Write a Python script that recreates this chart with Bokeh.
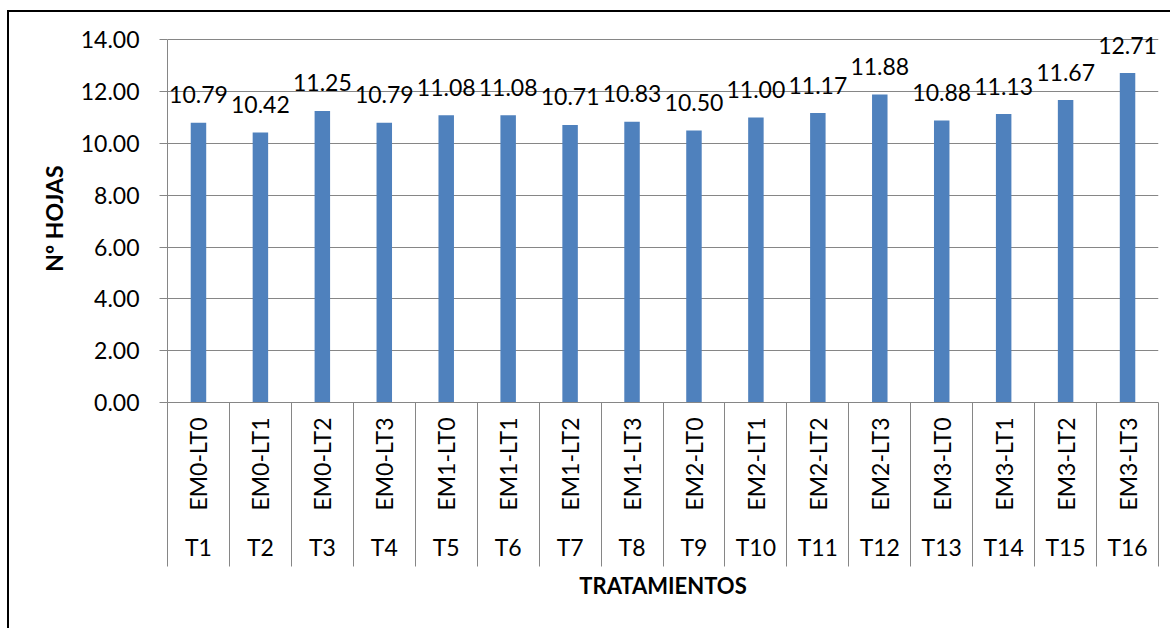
from math import pi
from bokeh.plotting import figure
from bokeh.models import (Range1d, LinearAxis, FixedTicker, PrintfTickFormatter,
                          Grid, ColumnDataSource)
from bokeh.core.properties import value
from bokeh.embed import file_html
from bokeh.resources import INLINE

# Treatment codes (inner level) and treatment names (outer level)
codes = ["EM0-LT0", "EM0-LT1", "EM0-LT2", "EM0-LT3",
         "EM1-LT0", "EM1-LT1", "EM1-LT2", "EM1-LT3",
         "EM2-LT0", "EM2-LT1", "EM2-LT2", "EM2-LT3",
         "EM3-LT0", "EM3-LT1", "EM3-LT2", "EM3-LT3"]
treatments = ["T1", "T2", "T3", "T4", "T5", "T6", "T7", "T8",
              "T9", "T10", "T11", "T12", "T13", "T14", "T15", "T16"]
# Mean number of leaves per treatment
hojas = [10.79, 10.42, 11.25, 10.79, 11.08, 11.08, 10.71, 10.83,
         10.50, 11.00, 11.17, 11.88, 10.88, 11.13, 11.67, 12.71]
y_ticks = [0, 2, 4, 6, 8, 10, 12, 14]

n = len(treatments)
centers = [i + 0.5 for i in range(n)]
edges = list(range(n + 1))

GRAY = "#868686"
BAR = "#4F81BD"
FONT = "Lato"
FS = "23px"
SEP_LEN = 164   # length of the cell separators under the axis

p = figure(frame_width=991, frame_height=368,
           x_range=Range1d(0, n), y_range=Range1d(0, 14.2),
           x_axis_type=None, y_axis_type=None,
           min_border_left=158, min_border_top=22,
           min_border_right=12, min_border_bottom=226,
           output_backend="svg", toolbar_location=None)
p.outline_line_color = None
p.background_fill_color = "white"
p.border_fill_color = "white"
p.styles = {"margin-left": "7px", "margin-top": "10px",
            "border-left": "2px solid #000", "border-top": "2px solid #000"}

# value axis
yaxis = LinearAxis(ticker=FixedTicker(ticks=y_ticks),
                   formatter=PrintfTickFormatter(format="%.2f"),
                   bounds=(0, 14),
                   axis_label="Nº HOJAS",
                   axis_label_text_font=FONT,
                   axis_label_text_font_style="bold",
                   axis_label_text_font_size=FS,
                   axis_label_text_color="black",
                   axis_label_standoff=10,
                   major_label_text_font=FONT,
                   major_label_text_font_size=FS,
                   major_label_text_color="black",
                   major_label_standoff=20,
                   major_tick_out=8, major_tick_in=0,
                   major_tick_line_color=GRAY,
                   minor_tick_line_color=None,
                   axis_line_color=GRAY)
p.add_layout(yaxis, "left")
p.add_layout(Grid(dimension=1, ticker=FixedTicker(ticks=y_ticks),
                  grid_line_color=GRAY, grid_line_width=1))

# inner category level: codes, with long minor ticks as cell separators
code_axis = LinearAxis(ticker=FixedTicker(ticks=centers, minor_ticks=edges),
                       major_label_overrides={c: s for c, s in zip(centers, codes)},
                       major_label_orientation=pi / 2,
                       major_label_text_font=FONT,
                       major_label_text_font_size=FS,
                       major_label_text_color="black",
                       major_label_standoff=15 - SEP_LEN,
                       major_tick_out=0, major_tick_in=0,
                       major_tick_line_color=None,
                       minor_tick_out=SEP_LEN, minor_tick_in=0,
                       minor_tick_line_color=GRAY,
                       axis_line_color=GRAY)
p.add_layout(code_axis, "below")

# outer category level: treatment names
trt_axis = LinearAxis(ticker=FixedTicker(ticks=centers, minor_ticks=[]),
                      major_label_overrides={c: s for c, s in zip(centers, treatments)},
                      major_label_text_font=FONT,
                      major_label_text_font_size=FS,
                      major_label_text_color="black",
                      major_label_standoff=19,
                      major_tick_out=0, major_tick_in=0,
                      major_tick_line_color=None,
                      minor_tick_line_color=None,
                      axis_line_color=None,
                      axis_label="TRATAMIENTOS",
                      axis_label_text_font=FONT,
                      axis_label_text_font_style="bold",
                      axis_label_text_font_size="22px",
                      axis_label_text_color="black",
                      axis_label_standoff=8)
p.add_layout(trt_axis, "below")

src = ColumnDataSource(dict(x=centers, top=hojas,
                            label=[f"{v:.2f}" for v in hojas]))
p.vbar(x="x", top="top", width=0.25, source=src,
       fill_color=BAR, line_color=None)
p.text(x="x", y="top", text="label", source=src,
       text_align="center", text_baseline="alphabetic", y_offset=-28,
       text_font=value(FONT), text_font_size=FS, text_color="black")

open("out.html", "w").write(file_html(p, INLINE))
